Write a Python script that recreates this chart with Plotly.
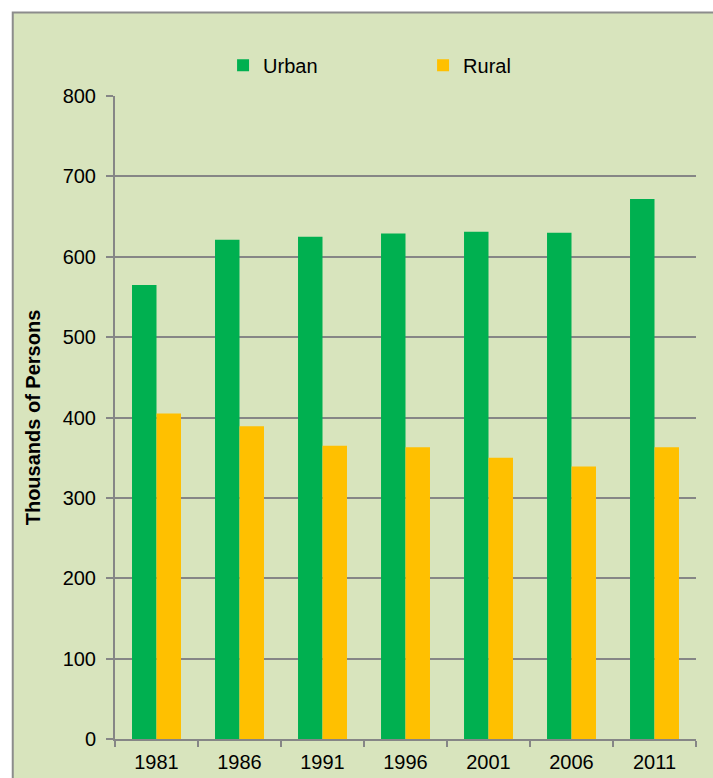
import plotly.graph_objects as go

years = ["1981", "1986", "1991", "1996", "2001", "2006", "2011"]
urban = [565, 621, 625, 629, 631, 630, 672]
rural = [405, 389, 365, 363, 350, 339, 363]

GREEN = "#00B050"
YELLOW = "#FFC000"
BG = "#D8E4BD"
GRID = "#868686"
FONT = "Liberation Sans, Arial, sans-serif"

fig = go.Figure()
fig.add_trace(go.Bar(x=years, y=urban, name="Urban", marker=dict(color=GREEN, line=dict(width=0))))
fig.add_trace(go.Bar(x=years, y=rural, name="Rural", marker=dict(color=YELLOW, line=dict(width=0))))

fig.update_layout(
    width=713, height=778,
    margin=dict(l=115, r=17, t=96, b=39, autoexpand=False),
    paper_bgcolor="white",
    plot_bgcolor=BG,
    barmode="group",
    bargap=0.41,
    bargroupgap=0,
    font=dict(family=FONT, size=20, color="#000000"),
    showlegend=True,
    legend=dict(
        orientation="h", x=0.186, y=1.048, xanchor="left", yanchor="middle",
        bgcolor="rgba(0,0,0,0)", entrywidth=155, entrywidthmode="pixels",
        font=dict(family=FONT, size=20), itemwidth=30,
    ),
    shapes=[
        dict(type="rect", xref="paper", yref="paper", x0=-0.176, x1=1.5, y0=-0.5, y1=1.13,
             fillcolor=BG, line=dict(color="#8C8C8C", width=2), layer="below"),
    ],
)

fig.update_xaxes(
    type="category", automargin=False,
    showline=True, linecolor=GRID, linewidth=2,
    ticks="outside", tickson="boundaries", ticklen=6, tickcolor=GRID, tickwidth=2,
    tickfont=dict(family=FONT, size=20),
    ticklabelstandoff=4,
    showgrid=False,
)
fig.update_yaxes(
    range=[0, 800], dtick=100, tick0=0, automargin=False,
    showline=True, linecolor=GRID, linewidth=2,
    ticks="outside", ticklen=7, tickcolor=GRID, tickwidth=2,
    showgrid=True, gridcolor=GRID, gridwidth=2,
    zeroline=False,
    tickfont=dict(family=FONT, size=20),
    ticklabelstandoff=6,
    title=dict(text="<b>Thousands of Persons</b>", font=dict(family=FONT, size=20), standoff=17),
)

fig.write_html("out.html", config={"displayModeBar": False},
               post_script="document.body.style.margin='0';document.body.style.overflow='hidden';")
